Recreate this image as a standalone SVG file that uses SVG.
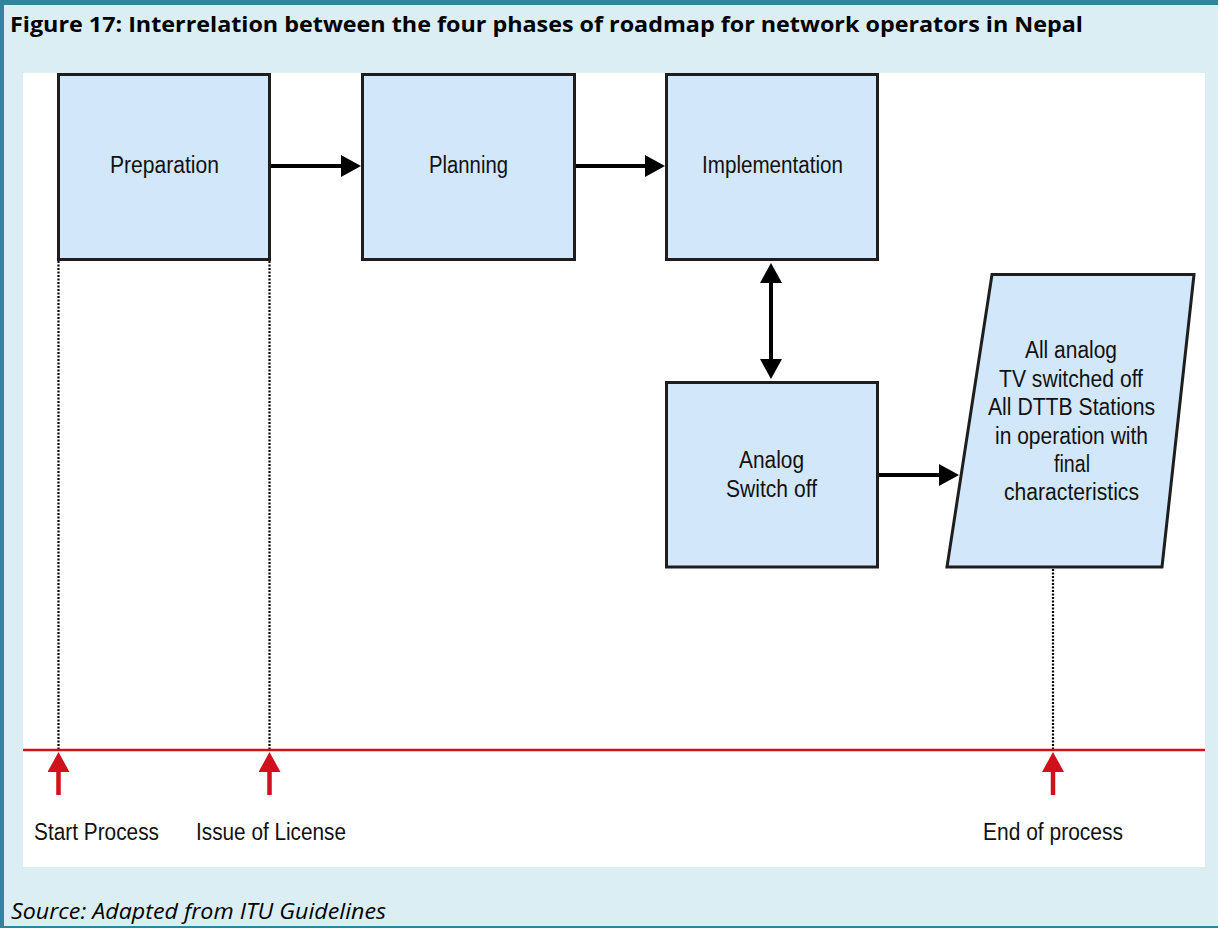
<svg xmlns="http://www.w3.org/2000/svg" width="1218" height="928" viewBox="0 0 1218 928">
<style>
.frame{fill:#31849B}
.box{fill:#D3E7FA;stroke:#1E1E1E;stroke-width:3}
.lbl{font-family:"Liberation Sans",Arial,sans-serif;font-size:23.5px;fill:#111}
.dot{stroke:#000;stroke-width:2.2;stroke-dasharray:2 1.5;fill:none}
.conn{stroke:#000;stroke-width:4;fill:none}
.red{stroke:#D0101A;stroke-width:4.5;fill:none}
.title{font-family:"Open Sans",Lato,sans-serif;font-weight:bold;font-size:22px;fill:#000}
.src{font-family:"Open Sans",Lato,sans-serif;font-style:italic;font-size:21px;fill:#000}
</style>
<defs>
<marker id="ah" markerUnits="userSpaceOnUse" markerWidth="20" markerHeight="22" refX="2" refY="11" orient="auto-start-reverse" viewBox="0 0 20 22">
<path d="M0,0 L20,11 L0,22 z" fill="#000"/>
</marker>
<marker id="ahr" markerUnits="userSpaceOnUse" markerWidth="20" markerHeight="22" refX="2" refY="11" orient="auto" viewBox="0 0 20 22">
<path d="M0,0 L20,11 L0,22 z" fill="#D0101A"/>
</marker>
</defs>
<rect x="0" y="0" width="1218" height="928" fill="#DAEEF3"/>
<rect class="frame" x="0" y="0" width="1218" height="5"/>
<rect class="frame" x="0" y="0" width="4" height="928"/>
<rect class="frame" x="0" y="926" width="1218" height="2"/>
<text class="title" x="10" y="32" textLength="1073" lengthAdjust="spacingAndGlyphs">Figure 17: Interrelation between the four phases of roadmap for network operators in Nepal</text>
<rect x="23" y="73" width="1182" height="794" fill="#FFFFFF"/>

<g id="connectors">
<line class="dot" x1="58.5" y1="261" x2="58.5" y2="750"/>
<line class="dot" x1="269.5" y1="261" x2="269.5" y2="750"/>
<line class="dot" x1="1053" y1="569" x2="1053" y2="750"/>
<line x1="23" y1="750" x2="1205" y2="750" stroke="#D0101A" stroke-width="2.5"/>
<line class="conn" x1="270" y1="166" x2="343" y2="166" marker-end="url(#ah)"/>
<line class="conn" x1="575" y1="166" x2="647" y2="166" marker-end="url(#ah)"/>
<line class="conn" x1="771" y1="281" x2="771" y2="361" marker-start="url(#ah)" marker-end="url(#ah)"/>
<line class="conn" x1="878" y1="475" x2="941" y2="475" marker-end="url(#ah)"/>
<line class="red" x1="58.5" y1="795" x2="58.5" y2="770" marker-end="url(#ahr)"/>
<line class="red" x1="269.5" y1="795" x2="269.5" y2="770" marker-end="url(#ahr)"/>
<line class="red" x1="1053" y1="795" x2="1053" y2="770" marker-end="url(#ahr)"/>
</g>

<g id="preparation">
<rect class="box" x="58.5" y="74.5" width="211" height="185"/>
<text class="lbl" x="110" y="173" textLength="109" lengthAdjust="spacingAndGlyphs">Preparation</text>
</g>
<g id="planning">
<rect class="box" x="362.5" y="74.5" width="212" height="185"/>
<text class="lbl" x="429" y="173" textLength="79" lengthAdjust="spacingAndGlyphs">Planning</text>
</g>
<g id="implementation">
<rect class="box" x="666.5" y="74.5" width="211" height="185"/>
<text class="lbl" x="702" y="173" textLength="141" lengthAdjust="spacingAndGlyphs">Implementation</text>
</g>
<g id="analog-switch-off">
<rect class="box" x="666.5" y="382.5" width="211" height="184.5"/>
<text class="lbl" x="739" y="468" textLength="65" lengthAdjust="spacingAndGlyphs">Analog</text>
<text class="lbl" x="726" y="497" textLength="91" lengthAdjust="spacingAndGlyphs">Switch off</text>
</g>
<g id="final-state">
<polygon class="box" points="992,274.5 1194,274.5 1162,567 947,567"/>
<text class="lbl" x="1025" y="358" textLength="92" lengthAdjust="spacingAndGlyphs">All analog</text>
<text class="lbl" x="999" y="387" textLength="144" lengthAdjust="spacingAndGlyphs">TV switched off</text>
<text class="lbl" x="988" y="415" textLength="167" lengthAdjust="spacingAndGlyphs">All DTTB Stations</text>
<text class="lbl" x="995" y="444" textLength="153" lengthAdjust="spacingAndGlyphs">in operation with</text>
<text class="lbl" x="1054" y="472" textLength="36" lengthAdjust="spacingAndGlyphs">final</text>
<text class="lbl" x="1004" y="500" textLength="135" lengthAdjust="spacingAndGlyphs">characteristics</text>
</g>
<g id="start-process">
<text class="lbl" x="34" y="840" textLength="125" lengthAdjust="spacingAndGlyphs">Start Process</text>
</g>
<g id="issue-of-license">
<text class="lbl" x="196" y="840" textLength="150" lengthAdjust="spacingAndGlyphs">Issue of License</text>
</g>
<g id="end-of-process">
<text class="lbl" x="983" y="840" textLength="140" lengthAdjust="spacingAndGlyphs">End of process</text>
</g>
<text class="src" x="11" y="919" textLength="375" lengthAdjust="spacingAndGlyphs">Source: Adapted from ITU Guidelines</text>
</svg>
